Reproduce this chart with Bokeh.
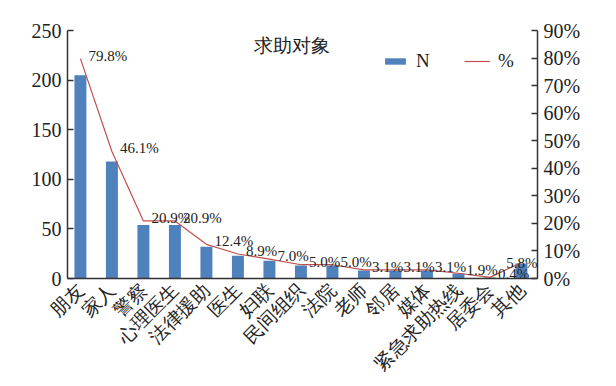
import math
from bokeh.plotting import figure
from bokeh.models import (Range1d, LinearAxis, FixedTicker, Legend, LegendItem,
                          Label, ColumnDataSource)
from bokeh.embed import file_html
from bokeh.resources import INLINE

categories = ["朋友", "家人", "警察", "心理医生", "法律援助", "医生", "妇联", "民间组织",
              "法院", "老师", "邻居", "媒体", "紧急求助热线", "居委会", "其他"]
counts = [205, 118, 54, 54, 32, 23, 18, 13, 13, 8, 8, 8, 5, 1, 15]
percents = [79.8, 46.1, 20.9, 20.9, 12.4, 8.9, 7.0, 5.0, 5.0, 3.1, 3.1, 3.1, 1.9, 0.4, 5.8]
pct_labels = ["%.1f%%" % v for v in percents]
left_ticks = [0, 50, 100, 150, 200, 250]
right_ticks = [0, 10, 20, 30, 40, 50, 60, 70, 80, 90]
title_text = "求助对象"

xs = list(range(len(categories)))
src = ColumnDataSource(dict(x=xs, n=counts, pct=percents, lab=pct_labels))

FONT = "Liberation Serif"
BAR = "#4F81BD"
LINE = "#C0504D"
AX = "#333333"
TXT = "#222222"

p = figure(frame_width=470, frame_height=248, output_backend="svg", toolbar_location=None,
           x_range=Range1d(-0.41, 14.51), y_range=Range1d(0, 250),
           min_border_left=67, min_border_right=79, min_border_top=30,
           min_border_bottom=104)
p.outline_line_color = None
p.xgrid.visible = False
p.ygrid.visible = False
p.background_fill_color = "white"

p.extra_y_ranges = {"pct": Range1d(0, 90)}

bars = p.vbar(x="x", top="n", width=0.38, source=src, fill_color=BAR, line_color=None)
line = p.line(x="x", y="pct", source=src, y_range_name="pct", line_color=LINE, line_width=1.2)

last = len(xs) - 1
for i, (xv, pv, lab) in enumerate(zip(xs, percents, pct_labels)):
    at_edge = i == last
    p.add_layout(Label(x=xv, y=pv, text=lab, y_range_name="pct",
                       text_font=FONT, text_font_size="15px", text_color=TXT,
                       text_align="right" if at_edge else "left",
                       text_baseline="middle",
                       x_offset=16 if at_edge else 8, y_offset=0 if at_edge else 3))

def style_y(ax):
    ax.major_tick_in = 6
    ax.major_tick_out = 0
    ax.minor_tick_line_color = None
    ax.axis_line_color = AX
    ax.axis_line_width = 1.5
    ax.major_tick_line_color = AX
    ax.major_tick_line_width = 1.5
    ax.major_label_text_font = FONT
    ax.major_label_text_font_size = "20px"
    ax.major_label_text_color = TXT
    ax.major_label_standoff = 6

ya = p.yaxis[0]
ya.ticker = FixedTicker(ticks=left_ticks)
style_y(ya)

ra = LinearAxis(y_range_name="pct", ticker=FixedTicker(ticks=right_ticks),
                major_label_overrides={t: "%d%%" % t for t in right_ticks})
style_y(ra)
p.add_layout(ra, "right")

xa = p.xaxis[0]
xa.ticker = FixedTicker(ticks=xs)
xa.major_label_overrides = {i: c for i, c in enumerate(categories)}
xa.major_label_orientation = math.pi / 4
xa.major_tick_in = 0
xa.major_tick_out = 0
xa.minor_tick_line_color = None
xa.axis_line_color = AX
xa.axis_line_width = 1.5
xa.major_label_text_font = FONT
xa.major_label_text_font_size = "19px"
xa.major_label_text_color = TXT
xa.major_label_standoff = 8

p.add_layout(Label(x=6.73, y=235, text=title_text, text_font=FONT, text_font_size="19px",
                   text_color=TXT, text_align="center", text_baseline="middle"))

legend = Legend(items=[LegendItem(label="N", renderers=[bars]),
                       LegendItem(label="%", renderers=[line])],
                orientation="horizontal", location=(315, 206),
                glyph_width=26, glyph_height=8, label_height=8,
                label_text_font=FONT, label_text_font_size="19px",
                label_text_color=TXT, label_standoff=8, spacing=28,
                padding=0, margin=0, border_line_color=None,
                background_fill_alpha=0)
p.add_layout(legend, "center")

open("out.html", "w").write(file_html(p, INLINE))
